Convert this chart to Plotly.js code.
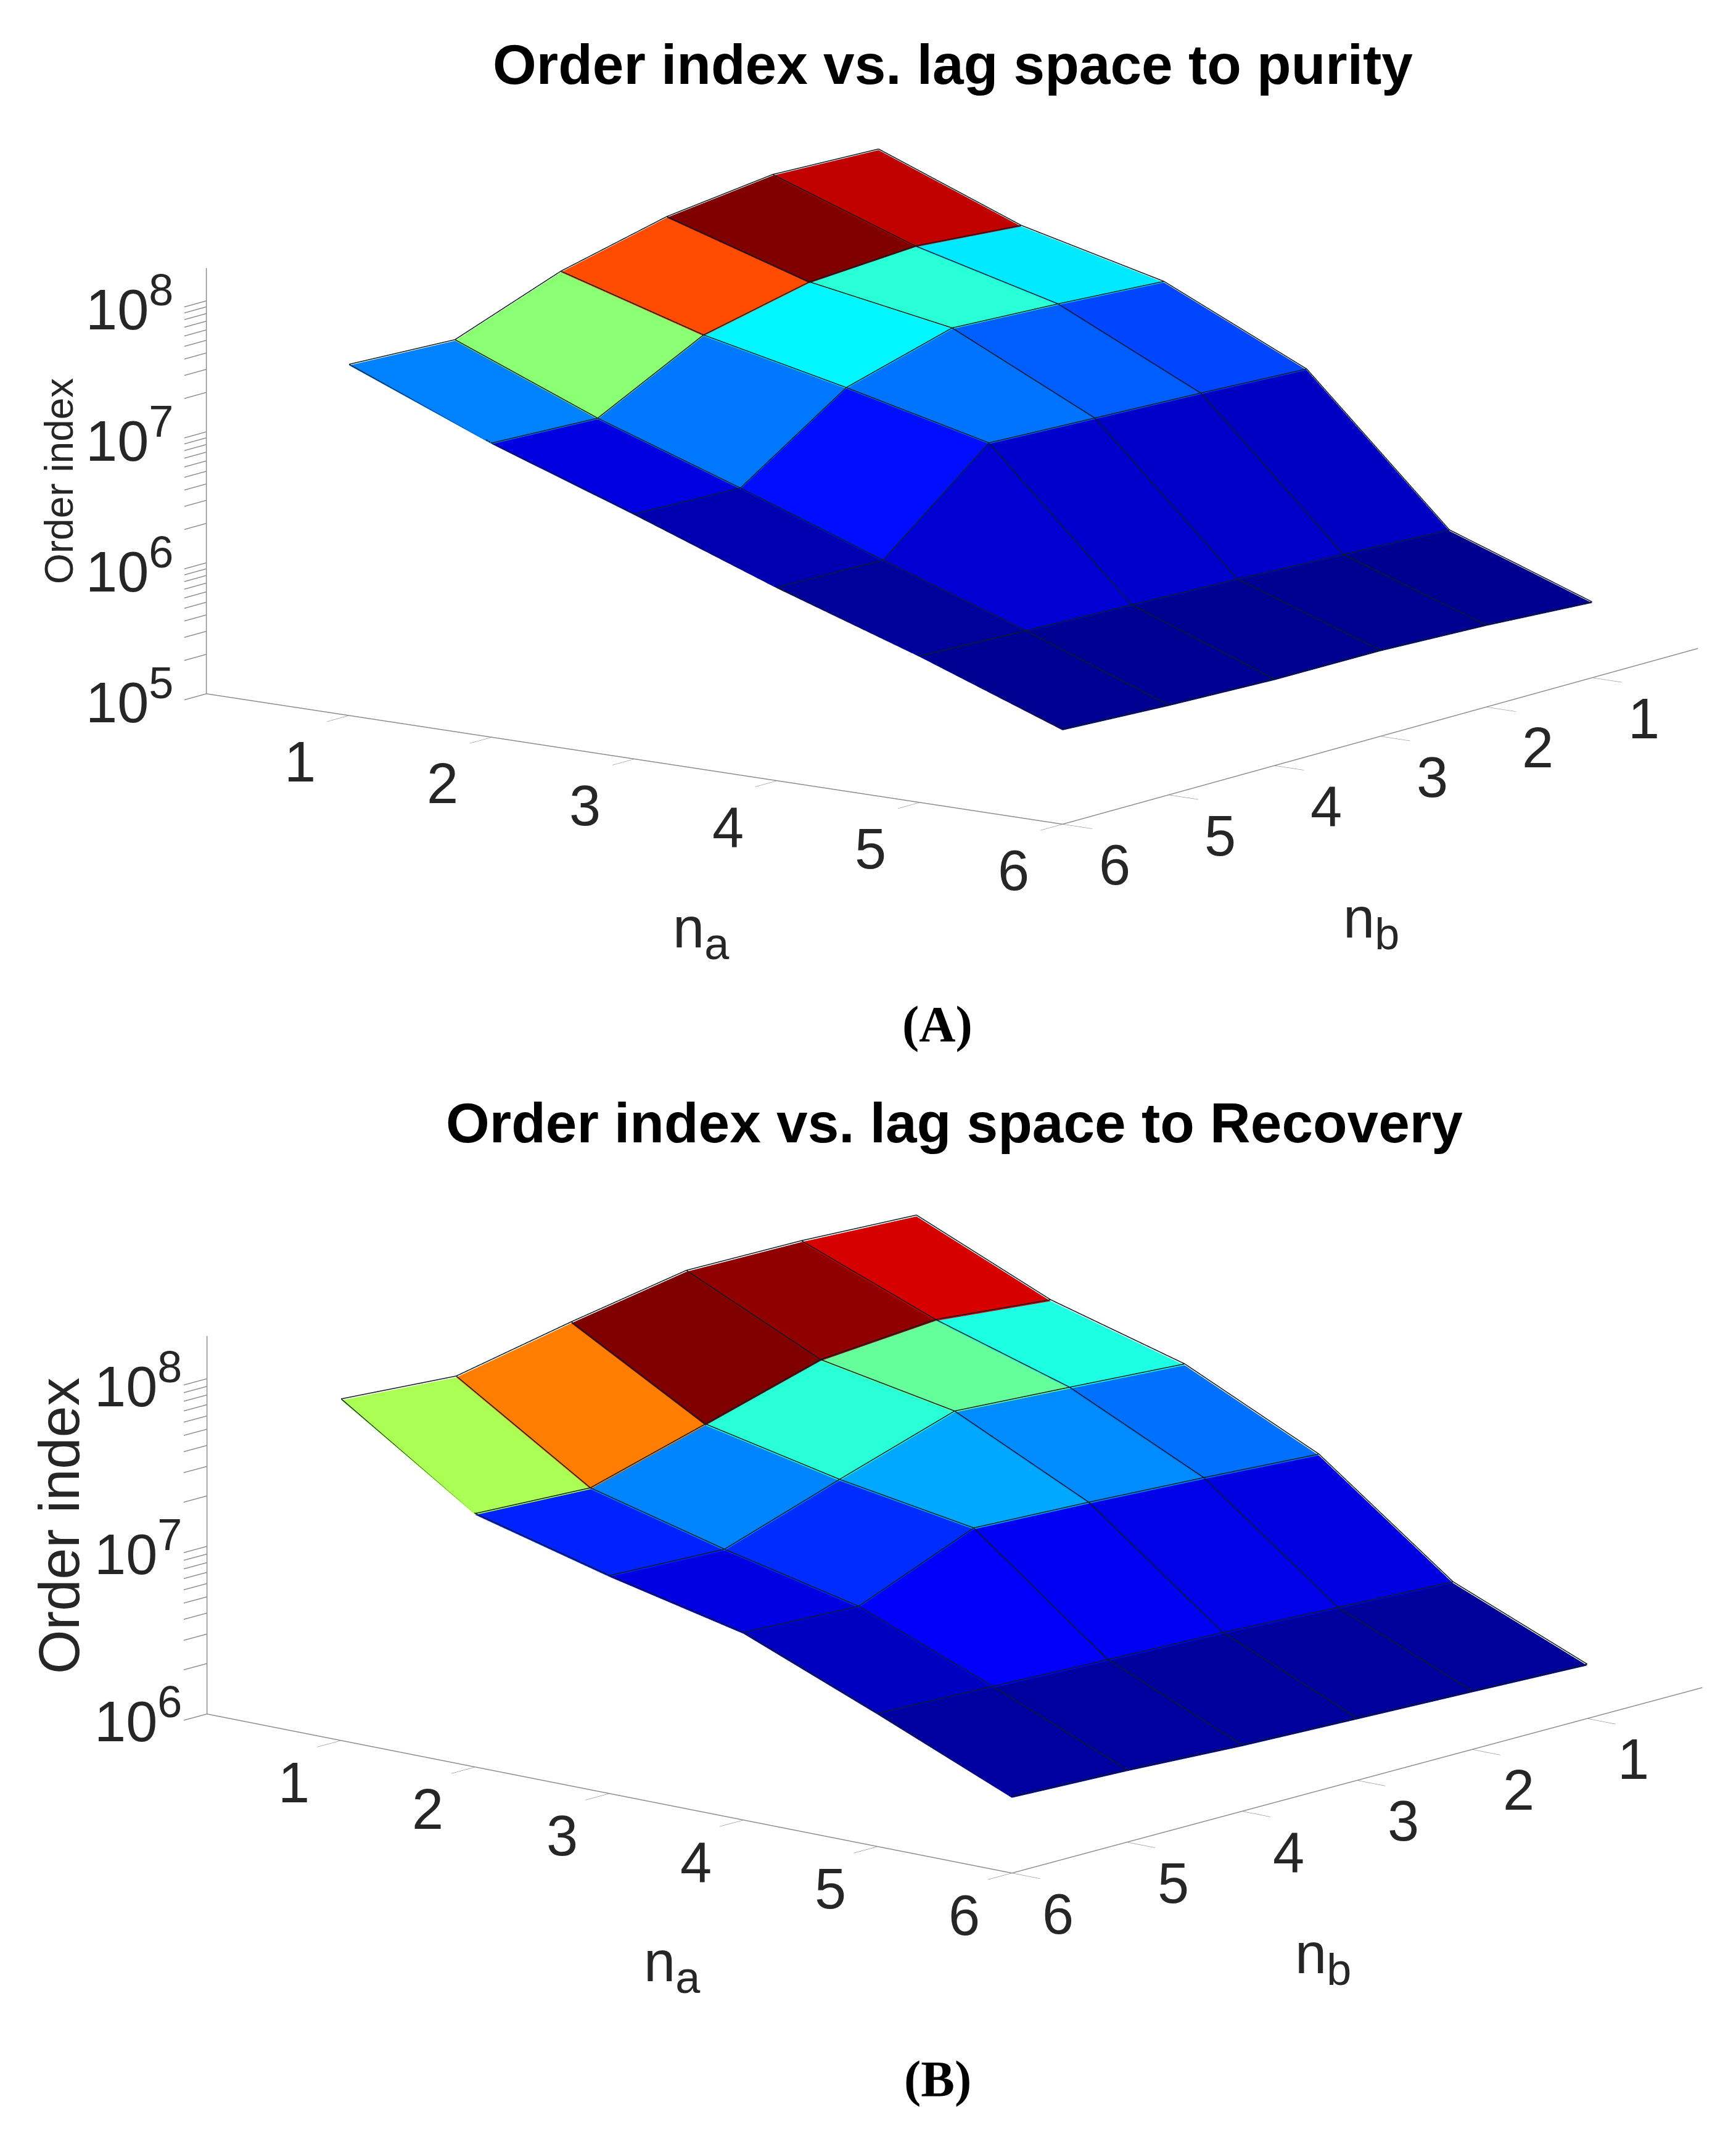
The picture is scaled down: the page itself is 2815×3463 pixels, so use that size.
<!DOCTYPE html>
<html><head><meta charset="utf-8">
<script src="https://cdn.plot.ly/plotly-3.0.1.min.js"></script>
<style>html,body{margin:0;padding:0;background:#fff}#g{width:2815px;height:3463px}</style>
</head><body><div id="g"></div>
<script>
const W = 2815, H = 3463;
const naVals = [1, 2, 3, 4, 5, 6];
const nbVals = [1, 2, 3, 4, 5, 6];
const tickNums = ['1', '2', '3', '4', '5', '6'];
// rows: nb = 1..6, columns: na = 1..6
const purity = [
  [1.58e8, 6.05e7, 3.31e7, 1.04e7, 9.01e5, 3.72e5],
  [1.69e8, 7.05e7, 3.73e7, 1.14e7, 9.78e5, 4.16e5],
  [1.35e8, 6.27e7, 4.09e7, 1.23e7, 1.06e6, 4.46e5],
  [8.65e7, 4.13e7, 2.40e7, 1.33e7, 1.13e6, 4.49e5],
  [4.34e7, 1.60e7, 6.87e6, 2.83e6, 1.20e6, 4.77e5],
  [4.71e7, 1.73e7, 7.28e6, 2.94e6, 1.29e6, 5.21e5]
];
const recovery = [
  [1.60e8, 7.20e7, 4.29e7, 1.79e7, 4.46e6, 2.07e6],
  [1.72e8, 8.39e7, 4.76e7, 1.98e7, 4.79e6, 2.19e6],
  [1.75e8, 7.40e7, 5.25e7, 2.16e7, 5.19e6, 2.31e6],
  [1.32e8, 4.67e7, 3.14e7, 2.32e7, 5.47e6, 2.44e6],
  [9.58e7, 2.97e7, 1.84e7, 1.21e7, 5.79e6, 2.65e6],
  [1.07e8, 3.19e7, 1.96e7, 1.29e7, 6.12e6, 2.81e6]
];
const jet = [[0,'rgb(0,0,143)'],[0.125,'rgb(0,0,255)'],[0.375,'rgb(0,255,255)'],[0.625,'rgb(255,255,0)'],[0.875,'rgb(255,0,0)'],[1,'rgb(128,0,0)']];
const wireLift = 1.02; // keeps the mesh edges just above the faces so the depth test shows them

function traces(Z, scene) {
  const x = [], y = [], z = [], i = [], j = [], k = [], cell = [];
  nbVals.forEach((nb, r) => naVals.forEach((na, c) => { x.push(nb); y.push(na); z.push(Z[r][c]); }));
  const n = naVals.length;
  for (let r = 0; r < nbVals.length - 1; r++) for (let c = 0; c < n - 1; c++) {
    const a = r * n + c, b = a + 1, d = a + n, e = d + 1;
    i.push(a, a); j.push(b, e); k.push(e, d);
    cell.push(Z[r][c], Z[r][c]);
  }
  const all = Z.flat();
  const mesh = {type:'mesh3d', scene, x, y, z, i, j, k, intensity:cell, intensitymode:'cell',
    colorscale:jet, cmin:Math.min(...all), cmax:Math.max(...all), showscale:false, flatshading:true,
    lighting:{ambient:1,diffuse:0,specular:0,roughness:1,fresnel:0}, hoverinfo:'skip'};
  const lx = [], ly = [], lz = [];
  nbVals.forEach((nb, r) => { naVals.forEach((na, c) => { lx.push(nb); ly.push(na); lz.push(Z[r][c]*wireLift); }); lx.push(null); ly.push(null); lz.push(null); });
  naVals.forEach((na, c) => { nbVals.forEach((nb, r) => { lx.push(nb); ly.push(na); lz.push(Z[r][c]*wireLift); }); lx.push(null); ly.push(null); lz.push(null); });
  const wire = {type:'scatter3d', scene, mode:'lines', x:lx, y:ly, z:lz, line:{color:'#0c1c24', width:3}, hoverinfo:'skip', showlegend:false};
  return [mesh, wire];
}
function sceneLayout(cx, cy, halfX, halfY, zrange, zticks, aspectXY, aspectZ, eye) {
  const ax = {range:[0,6], tickvals:naVals, showticklabels:false, showgrid:false, zeroline:false, showbackground:false,
    showline:true, linecolor:'#8c8c8c', linewidth:3, ticks:'outside', ticklen:60, tickwidth:3, tickcolor:'#8c8c8c', showspikes:false, title:{text:''}};
  return {
    domain:{x:[(cx-halfX)/W,(cx+halfX)/W], y:[1-(cy+halfY)/H,1-(cy-halfY)/H]},
    xaxis:{...ax}, yaxis:{...ax},
    zaxis:{...ax, ticklen:45, type:'log', range:zrange, tickvals:zticks, ticktext:zticks.map(()=>'')},
    aspectmode:'manual', aspectratio:{x:aspectXY,y:aspectXY,z:aspectZ},
    camera:{eye, up:{x:0,y:0,z:1}, center:{x:0,y:0,z:0}, projection:{type:'orthographic'}},
    dragmode:false
  };
}
const zTicksA = [1e5,2e5,3e5,4e5,5e5,6e5,7e5,8e5,9e5,1e6,2e6,3e6,4e6,5e6,6e6,7e6,8e6,9e6,1e7,2e7,3e7,4e7,5e7,6e7,7e7,8e7,9e7,1e8];
const zTicksB = zTicksA.slice(9);
const labelFont = {family:'"Liberation Sans",Arial,sans-serif', size:92, color:'#262626'};
const big = t => '<span style="font-size:72px">' + t + '</span>';
function sceneAnnots(zs) {
  const out = [];
  naVals.forEach((na,i) => out.push({x:6,y:na,z:zs.base,text:tickNums[i],showarrow:false,xshift:zs.na[0],yshift:-zs.na[1],font:labelFont}));
  nbVals.forEach((nb,i) => out.push({x:nb,y:6,z:zs.base,text:tickNums[i],showarrow:false,xshift:zs.nb[0],yshift:-zs.nb[1],font:labelFont}));
  zs.exps.forEach(e => out.push({x:6,y:0,z:e,text:'10<sup>'+big(e)+'</sup>',showarrow:false,xshift:zs.z[0],yshift:-zs.z[1],font:labelFont}));
  return out;
}
const sA = sceneLayout(1544, 743, 1250, 743, [5,8.25], zTicksA, 2.327, 0.949, {x:3.14,y:2.33,z:0.82});
sA.annotations = sceneAnnots({base:5, exps:[5,6,7,8], na:[-80,75], nb:[84,66], z:[-125,4]});
const sB = sceneLayout(1548, 2451, 1250, 950, [6,8.255], zTicksB, 1.81, 0.663, {x:2.95,y:2.53,z:0.92});
sB.annotations = sceneAnnots({base:6, exps:[6,7,8], na:[-77,68], nb:[75,66], z:[-112,2]});
function paper(px, py, text, font, extra) { return Object.assign({xref:'paper',yref:'paper',x:px/W,y:1-py/H,text,showarrow:false,font,xanchor:'center',yanchor:'middle'}, extra||{}); }
const bold = s => ({family:'"Liberation Sans",Arial,sans-serif', size:s, color:'#000', weight:700});
const serif = {family:'"Liberation Serif","Times New Roman",serif', size:82, color:'#000', weight:700};
const titleF = {family:'"Liberation Sans",Arial,sans-serif', size:92, color:'#262626'};
const layout = {
  width:W, height:H, margin:{l:0,r:0,t:0,b:0}, paper_bgcolor:'#fff', showlegend:false,
  scene:sA, scene2:sB,
  annotations:[
    paper(1545, 105, '<b>Order index vs. lag space to purity</b>', bold(91)),
    paper(1548, 1820, '<b>Order index vs. lag space to Recovery</b>', bold(91)),
    paper(1520, 1660, '<b>(A)</b>', serif),
    paper(1520, 3370, '<b>(B)</b>', serif),
    paper(96, 780, 'Order index', {family:'"Liberation Sans",Arial,sans-serif',size:64,color:'#262626'}, {textangle:-90}),
    paper(96, 2474, 'Order index', {family:'"Liberation Sans",Arial,sans-serif',size:92,color:'#262626'}, {textangle:-90}),
    paper(1137, 1511, 'n<sub>'+big('a')+'</sub>', titleF),
    paper(2223, 1495, 'n<sub>'+big('b')+'</sub>', titleF),
    paper(1090, 3187, 'n<sub>'+big('a')+'</sub>', titleF),
    paper(2145, 3174, 'n<sub>'+big('b')+'</sub>', titleF)
  ]
};
Plotly.newPlot('g', [...traces(purity,'scene'), ...traces(recovery,'scene2')], layout, {displayModeBar:false});
</script></body></html>
